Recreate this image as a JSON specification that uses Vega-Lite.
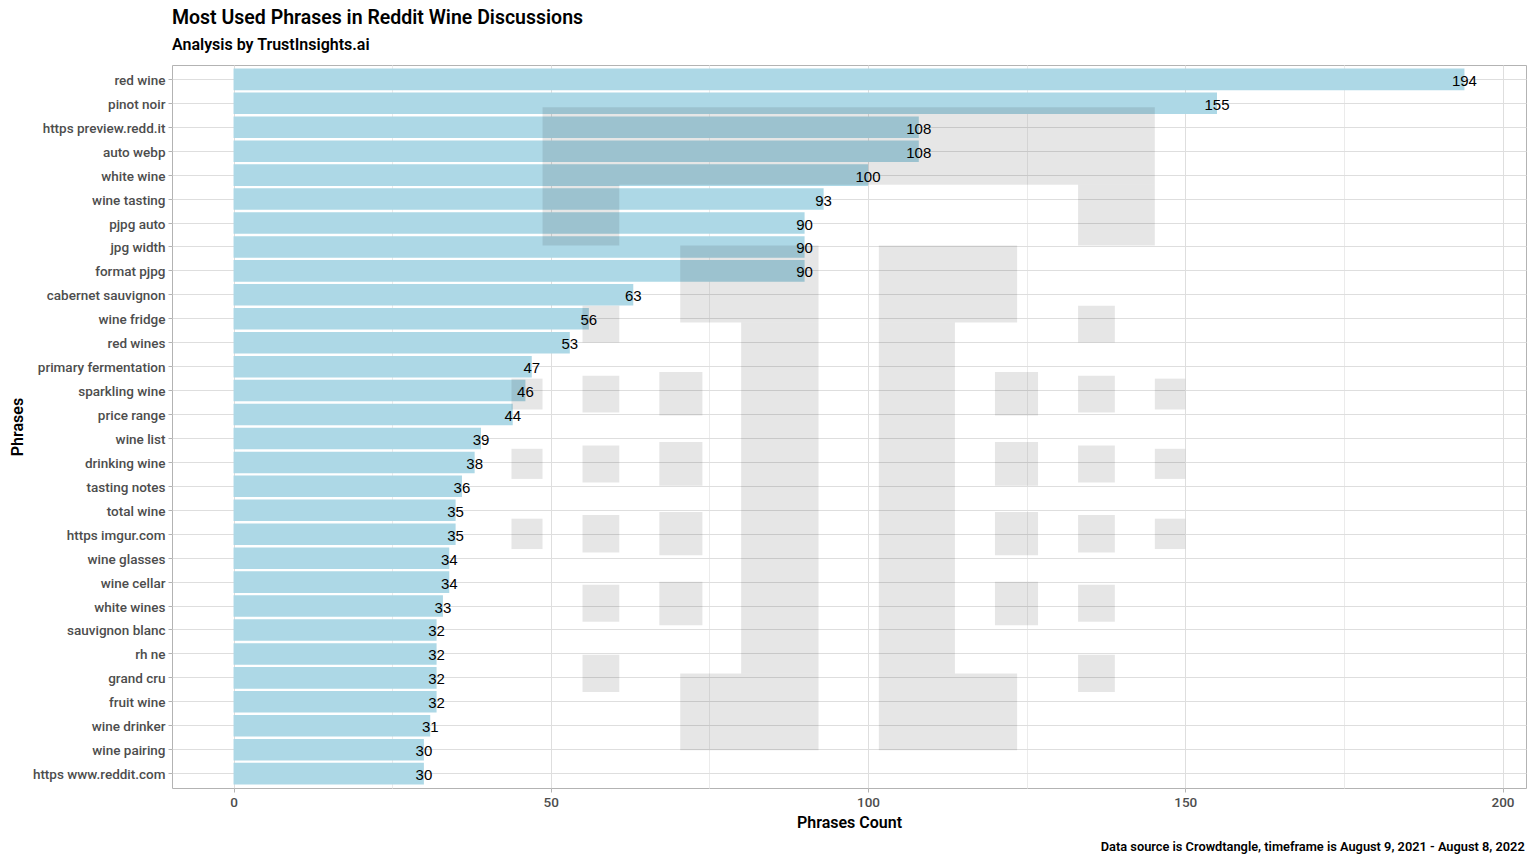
{
  "$schema": "https://vega.github.io/schema/vega-lite/v6.json",
  "width": 1354,
  "height": 723,
  "autosize": {"type": "none"},
  "padding": {"left": 172, "top": 65, "right": 10, "bottom": 76},
  "background": "white",
  "title": {
    "text": "Most Used Phrases in Reddit Wine Discussions",
    "subtitle": "Analysis by TrustInsights.ai",
    "anchor": "start",
    "frame": "group",
    "font": "Roboto",
    "fontSize": 19.5,
    "fontWeight": 600,
    "color": "#000000",
    "subtitleFont": "Roboto",
    "subtitleFontSize": 16,
    "subtitleFontWeight": 600,
    "subtitleColor": "#000000",
    "subtitlePadding": 9,
    "offset": 11
  },
  "datasets": {
    "phrases": [
      {"phrase": "red wine", "count": 194},
      {"phrase": "pinot noir", "count": 155},
      {"phrase": "https preview.redd.it", "count": 108},
      {"phrase": "auto webp", "count": 108},
      {"phrase": "white wine", "count": 100},
      {"phrase": "wine tasting", "count": 93},
      {"phrase": "pjpg auto", "count": 90},
      {"phrase": "jpg width", "count": 90},
      {"phrase": "format pjpg", "count": 90},
      {"phrase": "cabernet sauvignon", "count": 63},
      {"phrase": "wine fridge", "count": 56},
      {"phrase": "red wines", "count": 53},
      {"phrase": "primary fermentation", "count": 47},
      {"phrase": "sparkling wine", "count": 46},
      {"phrase": "price range", "count": 44},
      {"phrase": "wine list", "count": 39},
      {"phrase": "drinking wine", "count": 38},
      {"phrase": "tasting notes", "count": 36},
      {"phrase": "total wine", "count": 35},
      {"phrase": "https imgur.com", "count": 35},
      {"phrase": "wine glasses", "count": 34},
      {"phrase": "wine cellar", "count": 34},
      {"phrase": "white wines", "count": 33},
      {"phrase": "sauvignon blanc", "count": 32},
      {"phrase": "rh ne", "count": 32},
      {"phrase": "grand cru", "count": 32},
      {"phrase": "fruit wine", "count": 32},
      {"phrase": "wine drinker", "count": 31},
      {"phrase": "wine pairing", "count": 30},
      {"phrase": "https www.reddit.com", "count": 30}
    ],
    "logo": [
      {"x1": 48.7, "x2": 145.2, "y1": 2.16, "y2": 5.405},
      {"x1": 48.7, "x2": 60.8, "y1": 5.405, "y2": 7.94},
      {"x1": 133.1, "x2": 145.2, "y1": 5.405, "y2": 7.94},
      {"x1": 70.4, "x2": 92.2, "y1": 7.94, "y2": 11.155},
      {"x1": 80.0, "x2": 92.2, "y1": 11.155, "y2": 25.82},
      {"x1": 70.4, "x2": 92.2, "y1": 25.82, "y2": 29.02},
      {"x1": 101.7, "x2": 123.5, "y1": 7.94, "y2": 11.155},
      {"x1": 101.7, "x2": 113.7, "y1": 11.155, "y2": 25.82},
      {"x1": 101.7, "x2": 123.5, "y1": 25.82, "y2": 29.02},
      {"x1": 55.0, "x2": 60.8, "y1": 10.46, "y2": 11.99},
      {"x1": 133.1, "x2": 138.9, "y1": 10.46, "y2": 11.99},
      {"x1": 43.8, "x2": 48.7, "y1": 13.5, "y2": 14.79},
      {"x1": 43.8, "x2": 48.7, "y1": 16.43, "y2": 17.69},
      {"x1": 43.8, "x2": 48.7, "y1": 19.35, "y2": 20.62},
      {"x1": 145.2, "x2": 150.0, "y1": 13.5, "y2": 14.79},
      {"x1": 145.2, "x2": 150.0, "y1": 16.43, "y2": 17.69},
      {"x1": 145.2, "x2": 150.0, "y1": 19.35, "y2": 20.62},
      {"x1": 55.0, "x2": 60.8, "y1": 13.38, "y2": 14.91},
      {"x1": 55.0, "x2": 60.8, "y1": 16.29, "y2": 17.84},
      {"x1": 55.0, "x2": 60.8, "y1": 19.2, "y2": 20.76},
      {"x1": 55.0, "x2": 60.8, "y1": 22.11, "y2": 23.66},
      {"x1": 55.0, "x2": 60.8, "y1": 25.03, "y2": 26.59},
      {"x1": 133.1, "x2": 138.9, "y1": 13.38, "y2": 14.91},
      {"x1": 133.1, "x2": 138.9, "y1": 16.29, "y2": 17.84},
      {"x1": 133.1, "x2": 138.9, "y1": 19.2, "y2": 20.76},
      {"x1": 133.1, "x2": 138.9, "y1": 22.11, "y2": 23.66},
      {"x1": 133.1, "x2": 138.9, "y1": 25.03, "y2": 26.59},
      {"x1": 67.1, "x2": 73.9, "y1": 13.22, "y2": 15.04},
      {"x1": 67.1, "x2": 73.9, "y1": 16.15, "y2": 17.97},
      {"x1": 67.1, "x2": 73.9, "y1": 19.07, "y2": 20.88},
      {"x1": 67.1, "x2": 73.9, "y1": 21.99, "y2": 23.8},
      {"x1": 120.0, "x2": 126.8, "y1": 13.22, "y2": 15.04},
      {"x1": 120.0, "x2": 126.8, "y1": 16.15, "y2": 17.97},
      {"x1": 120.0, "x2": 126.8, "y1": 19.07, "y2": 20.88},
      {"x1": 120.0, "x2": 126.8, "y1": 21.99, "y2": 23.8}
    ]
  },
  "config": {
    "view": {"stroke": "#b3b3b3", "strokeWidth": 1},
    "axis": {
      "domain": false,
      "labelFont": "Roboto",
      "labelFontSize": 13.5,
      "labelFontWeight": 500,
      "labelColor": "#4d4d4d",
      "titleFont": "Roboto",
      "titleFontSize": 16,
      "titleFontWeight": 600,
      "titleColor": "#000000",
      "tickColor": "#b3b3b3",
      "tickSize": 4,
      "gridColor": "#dedede",
      "gridWidth": 1
    }
  },
  "layer": [
    {
      "data": {"name": "phrases"},
      "layer": [
        {
          "mark": {"type": "bar", "color": "#ADD8E6"},
          "encoding": {
            "y": {
              "field": "phrase",
              "type": "nominal",
              "sort": null,
              "scale": {"paddingInner": 0.1, "paddingOuter": 0.15},
              "axis": {
                "title": "Phrases",
                "grid": true,
                "bandPosition": 0.5,
                "labelPadding": 3,
                "labelBaseline": "middle",
                "labelOffset": 1.5,
                "titleX": -155,
                "titleBaseline": "middle"
              }
            },
            "x": {
              "field": "count",
              "type": "quantitative",
              "scale": {"domain": [-9.7, 203.7], "nice": false, "zero": false},
              "axis": {
                "title": "Phrases Count",
                "values": [0, 25, 50, 75, 100, 125, 150, 175, 200],
                "labelExpr": "datum.value % 50 === 0 ? datum.label : ''",
                "tickOpacity": {"condition": {"test": "datum.value % 50 === 0", "value": 1}, "value": 0},
                "gridColor": {"condition": {"test": "datum.value % 50 === 0", "value": "#dedede"}, "value": "#ebebeb"},
                "labelPadding": 3,
                "titleY": 34,
                "titleBaseline": "middle"
              }
            }
          }
        },
        {
          "mark": {"type": "text", "align": "center", "baseline": "middle", "dy": 1.5, "font": "'Liberation Sans', Arial, sans-serif", "fontSize": 15, "color": "#000000"},
          "encoding": {
            "y": {"field": "phrase", "type": "nominal", "sort": null},
            "x": {"field": "count", "type": "quantitative"},
            "text": {"field": "count", "type": "quantitative"}
          }
        }
      ]
    },
    {
      "layer": [
        {
          "data": {"name": "logo"},
          "mark": {"type": "rect", "color": "#000000", "opacity": 0.098},
          "encoding": {
            "x": {"field": "x1", "type": "quantitative", "title": "Phrases Count", "scale": {"domain": [-9.7, 203.7], "nice": false, "zero": false}},
            "x2": {"field": "x2"},
            "y": {"field": "y1", "type": "quantitative", "axis": null, "scale": {"domain": [0.4, 30.6], "reverse": true, "nice": false, "zero": false}},
            "y2": {"field": "y2"}
          }
        },
        {
          "data": {"values": [{}]},
          "mark": {
            "type": "text",
            "text": "Data source is Crowdtangle, timeframe is August 9, 2021 - August 8, 2022",
            "align": "right",
            "baseline": "middle",
            "font": "Roboto",
            "fontSize": 12.8,
            "fontWeight": 600,
            "color": "#000000"
          },
          "encoding": {
            "x": {"datum": 203.5, "type": "quantitative"},
            "y": {"datum": 33.05, "type": "quantitative"}
          }
        }
      ]
    }
  ],
  "resolve": {"scale": {"y": "independent"}}
}
